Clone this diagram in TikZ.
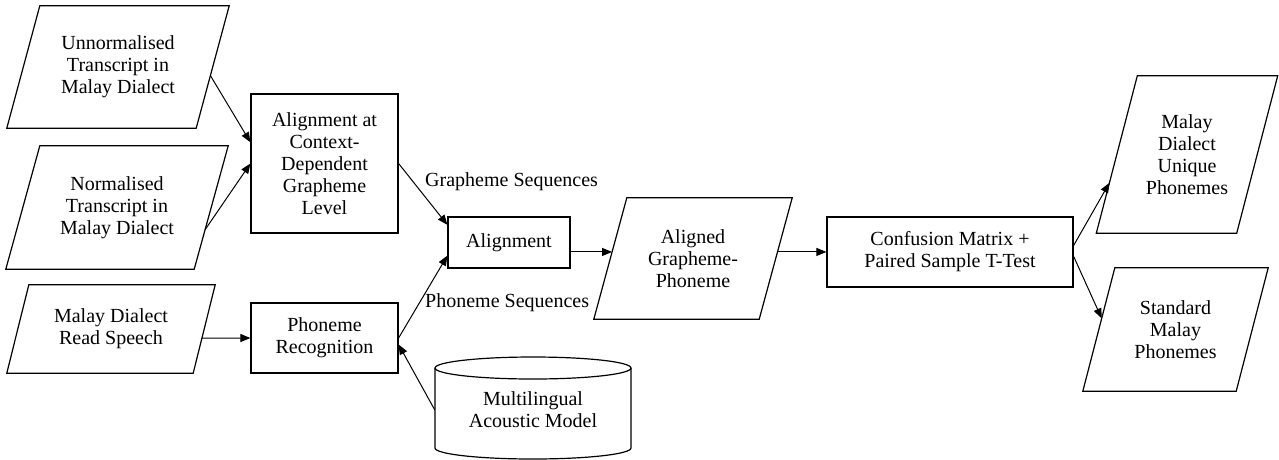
\documentclass[tikz,border=0pt]{standalone}
\usepackage{fontspec}
\setmainfont{Liberation Serif}
\newfontfamily\tnrfont{Liberation Serif}
\usetikzlibrary{arrows.meta,calc}
\newcommand\parnode[7]{%
  \node[minimum width=#4pt, minimum height=#5pt] (#1) at (#2,#3) {#7};
  \coordinate (#1-sw) at (#1.south west);
  \coordinate (#1-se) at ($(#1.south east)+(-#6,0)$);
  \coordinate (#1-nw) at ($(#1.north west)+(#6,0)$);
  \coordinate (#1-ne) at (#1.north east);
  \draw[shapeline] (#1-sw) -- (#1-nw) -- (#1-ne) -- (#1-se) -- cycle;}
\begin{document}
\begin{tikzpicture}[x=1pt,y=-1pt,
  font=\tnrfont\fontsize{20}{22}\selectfont,
  every node/.style={align=center, inner sep=0pt},
  shapeline/.style={line width=1.2pt, line join=miter},
  box/.style={draw, line width=1.2pt, rectangle},
  arr/.style={line width=1pt, -{Triangle[length=10pt,width=8pt]}},
  lbl/.style={anchor=west}
]
\useasboundingbox (0,0) rectangle (1279,459);
\fill[white] (0,0) rectangle (1279,459);

\parnode{p1}{118}{67}{222}{122}{33}{Unnormalised\\Transcript in\\Malay Dialect}
\parnode{p2}{117}{207.5}{222}{123}{34}{Normalised\\Transcript in\\Malay Dialect}
\parnode{p3}{111}{329}{208}{88}{22}{Malay Dialect\\Read Speech}
\node[box, minimum width=147pt, minimum height=139pt] (b1) at (324.5,163.5) {Alignment at\\Context-\\Dependent\\Grapheme\\Level};
\node[box, minimum width=147pt, minimum height=70pt] (pr) at (324.5,338) {Phoneme\\Recognition};
\node[box, minimum width=122pt, minimum height=51pt] (al) at (509,242.5) {Alignment};
\parnode{ag}{693}{258.5}{198}{121}{33}{Aligned\\Grapheme-\\Phoneme}
\node[minimum width=196pt, minimum height=80pt] (cyl) at (533,410) {Multilingual\\Acoustic Model};
\draw[shapeline] (435,368) -- (435,448) arc[start angle=180, end angle=0, x radius=98, y radius=11] -- (631,368);
\draw[shapeline] (533,368) ellipse [x radius=98, y radius=11];
\node[box, minimum width=246pt, minimum height=70pt] (cm) at (950,252) {Confusion Matrix +\\Paired Sample T-Test};
\parnode{mdu}{1187}{154.5}{181}{157}{41}{Malay\\Dialect\\Unique\\Phonemes}
\parnode{sm}{1175.5}{329.5}{185}{123}{32}{Standard\\Malay\\Phonemes}

\node[lbl] (gs) at (425,182) {Grapheme Sequences};
\node[lbl] (ps) at (425,303) {Phoneme Sequences};

\coordinate (p1r) at ($(p1-ne)!0.57!(p1-se)$);
\coordinate (p2r) at ($(p2-ne)!0.68!(p2-se)$);
\coordinate (p3r) at ($(p3-ne)!0.602!(p3-se)$);
\coordinate (agl) at ($(ag-nw)!0.446!(ag-sw)$);
\coordinate (agr) at ($(ag-ne)!0.446!(ag-se)$);
\coordinate (mdul) at ($(mdu-nw)!0.68!(mdu-sw)$);
\coordinate (sml) at ($(sm-nw)!0.41!(sm-sw)$);

\draw[arr] (p1r) -- (b1.164);
\draw[arr] (p2r) -- (b1.west);
\draw[arr] (b1.east) -- (al.164);
\draw[arr] (pr.east) -- (al.192);
\draw[arr] (cyl.west) -- (pr.-5);
\draw[arr] (p3r) -- (pr.west);
\draw[arr] (al.east |- agl) -- (agl);
\draw[arr] (agr) -- (agr -| cm.west);
\draw[arr] (cm.3) -- (mdul);
\draw[arr] (cm.-2) -- (sml);
\end{tikzpicture}
\end{document}
